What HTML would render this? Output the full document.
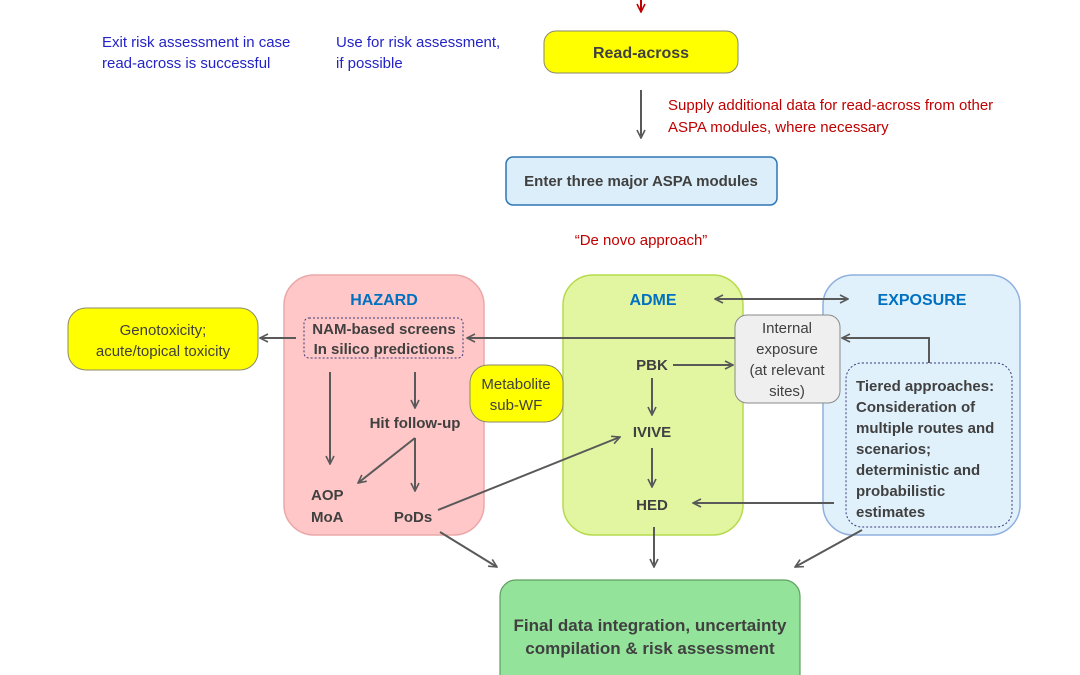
<!DOCTYPE html>
<html><head><meta charset="utf-8"><style>
html,body{margin:0;padding:0;background:#fff;width:1080px;height:675px;overflow:hidden}
text{font-family:"Liberation Sans",sans-serif}
.b{font-weight:bold;fill:#404040}
.n{fill:#404040}
</style></head><body>
<svg width="1080" height="675" viewBox="0 0 1080 675" xmlns="http://www.w3.org/2000/svg">
<defs>
<marker id="a" markerWidth="10" markerHeight="10" refX="9" refY="5" orient="auto" markerUnits="userSpaceOnUse"><path d="M1,1 L9,5 L1,9" fill="none" stroke="#595959" stroke-width="1.6"/></marker>
<marker id="as" markerWidth="10" markerHeight="10" refX="1" refY="5" orient="auto" markerUnits="userSpaceOnUse"><path d="M9,1 L1,5 L9,9" fill="none" stroke="#595959" stroke-width="1.6"/></marker>
<marker id="r" markerWidth="10" markerHeight="10" refX="9" refY="5" orient="auto" markerUnits="userSpaceOnUse"><path d="M1,1 L9,5 L1,9" fill="none" stroke="#c00000" stroke-width="1.6"/></marker>
</defs>
<line x1="641" y1="0" x2="641" y2="12" stroke="#c00000" stroke-width="2" marker-end="url(#r)"/>
<text x="102" y="47" fill="#2323c8" font-size="15">Exit risk assessment in case</text>
<text x="102" y="68" fill="#2323c8" font-size="15">read-across is successful</text>
<text x="336" y="47" fill="#2323c8" font-size="15">Use for risk assessment,</text>
<text x="336" y="68" fill="#2323c8" font-size="15">if possible</text>
<rect x="544" y="31" width="194" height="42" rx="12" fill="#ffff00" stroke="#8a8a6a" stroke-width="1"/>
<text x="641" y="58" text-anchor="middle" class="b" font-size="16">Read-across</text>
<line x1="641" y1="90" x2="641" y2="138" stroke="#595959" stroke-width="2" marker-end="url(#a)"/>
<text x="668" y="110" fill="#c00000" font-size="15">Supply additional data for read-across from other</text>
<text x="668" y="132" fill="#c00000" font-size="15">ASPA modules, where necessary</text>
<rect x="506" y="157" width="271" height="48" rx="7" fill="#dbeef9" stroke="#2e75b6" stroke-width="1.5"/>
<text x="641" y="186" text-anchor="middle" class="b" font-size="15">Enter three major ASPA modules</text>
<text x="641" y="245" text-anchor="middle" fill="#c00000" font-size="15">“De novo approach”</text>
<rect x="284" y="275" width="200" height="260" rx="30" fill="#ffc7c7" stroke="#eaa8a8" stroke-width="1.5"/>
<rect x="563" y="275" width="180" height="260" rx="30" fill="#e2f6a2" stroke="#b6da4c" stroke-width="1.5"/>
<rect x="823" y="275" width="197" height="260" rx="30" fill="#e1f1fc" stroke="#8fb0de" stroke-width="1.5"/>
<text x="384" y="305" text-anchor="middle" font-weight="bold" fill="#0070c0" font-size="16">HAZARD</text>
<text x="653" y="305" text-anchor="middle" font-weight="bold" fill="#0070c0" font-size="16">ADME</text>
<text x="922" y="305" text-anchor="middle" font-weight="bold" fill="#0070c0" font-size="16">EXPOSURE</text>
<rect x="68" y="308" width="190" height="62" rx="18" fill="#ffff00" stroke="#8a8a6a"/>
<text x="163" y="335" text-anchor="middle" class="n" font-size="15">Genotoxicity;</text>
<text x="163" y="356" text-anchor="middle" class="n" font-size="15">acute/topical toxicity</text>
<rect x="304" y="318" width="159" height="40" rx="5" fill="none" stroke="#3a3a7a" stroke-width="1" stroke-dasharray="2,2"/>
<text x="384" y="334" text-anchor="middle" class="b" font-size="15">NAM-based screens</text>
<text x="384" y="354" text-anchor="middle" class="b" font-size="15">In silico predictions</text>
<rect x="470" y="365" width="93" height="57" rx="18" fill="#ffff00" stroke="#8a8a6a"/>
<text x="516" y="389" text-anchor="middle" class="n" font-size="15">Metabolite</text>
<text x="516" y="410" text-anchor="middle" class="n" font-size="15">sub-WF</text>
<rect x="735" y="315" width="105" height="88" rx="12" fill="#efefef" stroke="#8a8a8a"/>
<text x="787" y="333" text-anchor="middle" class="n" font-size="15">Internal</text>
<text x="787" y="354" text-anchor="middle" class="n" font-size="15">exposure</text>
<text x="787" y="375" text-anchor="middle" class="n" font-size="15">(at relevant</text>
<text x="787" y="396" text-anchor="middle" class="n" font-size="15">sites)</text>
<rect x="846" y="363" width="166" height="164" rx="16" fill="none" stroke="#3a3a7a" stroke-width="1" stroke-dasharray="2,2"/>
<g class="b" font-size="15">
<text x="856" y="391">Tiered approaches:</text>
<text x="856" y="412">Consideration of</text>
<text x="856" y="433">multiple routes and</text>
<text x="856" y="454">scenarios;</text>
<text x="856" y="475">deterministic and</text>
<text x="856" y="496">probabilistic</text>
<text x="856" y="517">estimates</text>
</g>
<g class="b" font-size="15">
<text x="415" y="428" text-anchor="middle">Hit follow-up</text>
<text x="311" y="500">AOP</text>
<text x="311" y="522">MoA</text>
<text x="413" y="522" text-anchor="middle">PoDs</text>
<text x="652" y="370" text-anchor="middle">PBK</text>
<text x="652" y="437" text-anchor="middle">IVIVE</text>
<text x="652" y="510" text-anchor="middle">HED</text>
</g>
<g stroke="#595959" stroke-width="2" fill="none" marker-end="url(#a)">
<line x1="296" y1="338" x2="260" y2="338"/>
<line x1="735" y1="338" x2="467" y2="338"/>
<line x1="715" y1="299" x2="848" y2="299" marker-start="url(#as)"/>
<polyline points="929,363 929,338 842,338"/>
<line x1="673" y1="365" x2="733" y2="365"/>
<line x1="652" y1="378" x2="652" y2="415"/>
<line x1="652" y1="448" x2="652" y2="487"/>
<line x1="834" y1="503" x2="693" y2="503"/>
<line x1="330" y1="372" x2="330" y2="464"/>
<line x1="415" y1="372" x2="415" y2="408"/>
<line x1="415" y1="438" x2="358" y2="483"/>
<line x1="415" y1="438" x2="415" y2="491"/>
<line x1="438" y1="510" x2="620" y2="437"/>
<line x1="440" y1="532" x2="497" y2="567"/>
<line x1="654" y1="527" x2="654" y2="567"/>
<line x1="862" y1="530" x2="795" y2="567"/>
</g>
<rect x="500" y="580" width="300" height="120" rx="16" fill="#93e49a" stroke="#5f9f5f" stroke-width="1.2"/>
<text x="650" y="631" text-anchor="middle" class="b" font-size="17">Final data integration, uncertainty</text>
<text x="650" y="654" text-anchor="middle" class="b" font-size="17">compilation &amp; risk assessment</text>
</svg>
</body></html>
